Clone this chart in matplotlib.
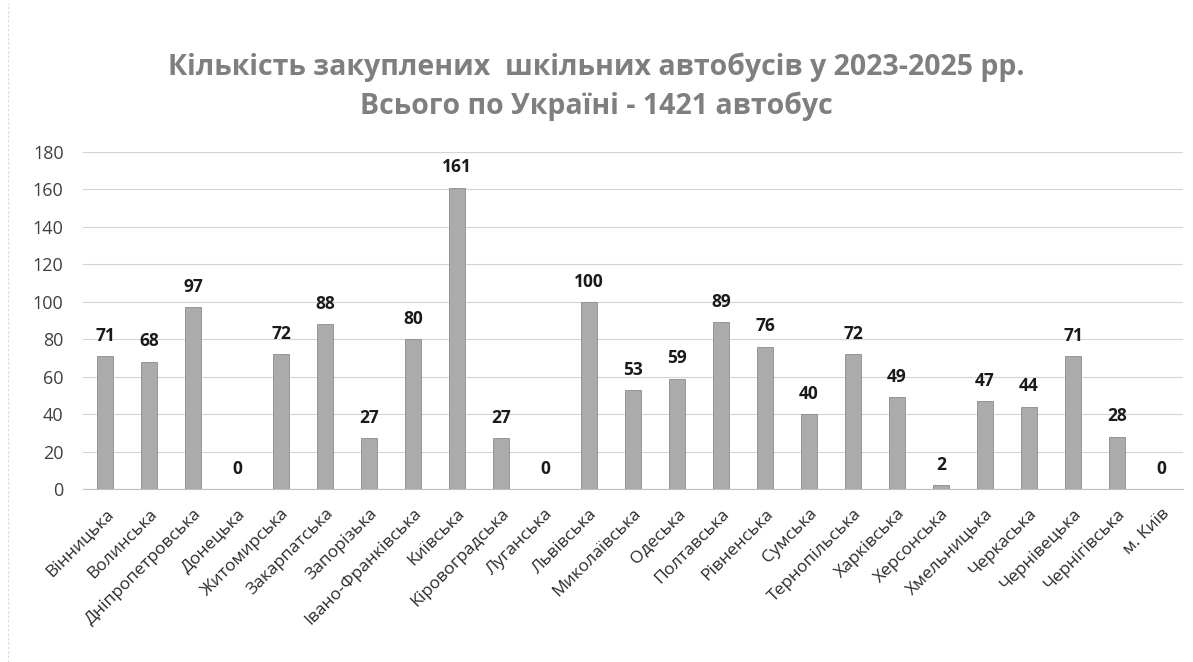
import numpy as np
import matplotlib.pyplot as plt
from matplotlib.lines import Line2D

oblasti = ['Вінницька', 'Волинська', 'Дніпропетровська', 'Донецька', 'Житомирська',
           'Закарпатська', 'Запорізька', 'Івано-Франківська', 'Київська', 'Кіровоградська',
           'Луганська', 'Львівська', 'Миколаївська', 'Одеська', 'Полтавська',
           'Рівненська', 'Сумська', 'Тернопільська', 'Харківська', 'Херсонська',
           'Хмельницька', 'Черкаська', 'Чернівецька', 'Чернігівська', 'м. Київ']
buses = [71, 68, 97, 0, 72, 88, 27, 80, 161, 27, 0, 100, 53, 59, 89, 76, 40, 72, 49, 2,
         47, 44, 71, 28, 0]
yticks = [0, 20, 40, 60, 80, 100, 120, 140, 160, 180]

plt.rcParams['font.family'] = ['Open Sans', 'DejaVu Sans']

fig = plt.figure(figsize=(11.93, 6.62), dpi=100)
ax = fig.add_axes([0.0696, 0.2613, 0.9220, 0.5091])

x = np.arange(len(oblasti))
ax.bar(x, buses, width=0.38, color='#ababab', edgecolor='#8c8c8c', linewidth=0.6, zorder=3)
for xi, v in zip(x, buses):
    ax.text(xi, v + 6, str(v), ha='center', va='bottom', fontsize=12.5,
            fontweight='bold', color='#1a1a1a')

ax.set_xlim(-0.5, len(oblasti) - 0.5)
ax.set_ylim(0, 180)
ax.set_yticks(yticks)
ax.set_xticks(x)
ax.set_xticklabels(oblasti, rotation=45, ha='right', rotation_mode='anchor',
                   fontsize=12.5, color='#2b2b2b')
ax.tick_params(axis='y', labelsize=13, labelcolor='#404040', length=0, pad=14)
ax.tick_params(axis='x', length=0, pad=12)
ax.grid(axis='y', color='#d4d4d4', linewidth=0.8, zorder=0)
for s in ['top', 'right', 'left']:
    ax.spines[s].set_visible(False)
ax.spines['bottom'].set_color('#bfbfbf')

# faint chart-area border on the left, as in the scan
fig.add_artist(Line2D([0.007, 0.007], [0.0, 0.995], color='#d9d9d9',
                      linewidth=0.8, linestyle=(0, (2, 2))))

fig.text(0.5, 0.898, 'Кількість закуплених  шкільних автобусів у 2023-2025 рр.',
         ha='center', va='center', fontsize=20.5, fontweight='bold', color='#7f7f7f')
fig.text(0.5, 0.840, 'Всього по Україні - 1421 автобус',
         ha='center', va='center', fontsize=20.5, fontweight='bold', color='#7f7f7f')

fig.savefig('out.png', dpi=100)
